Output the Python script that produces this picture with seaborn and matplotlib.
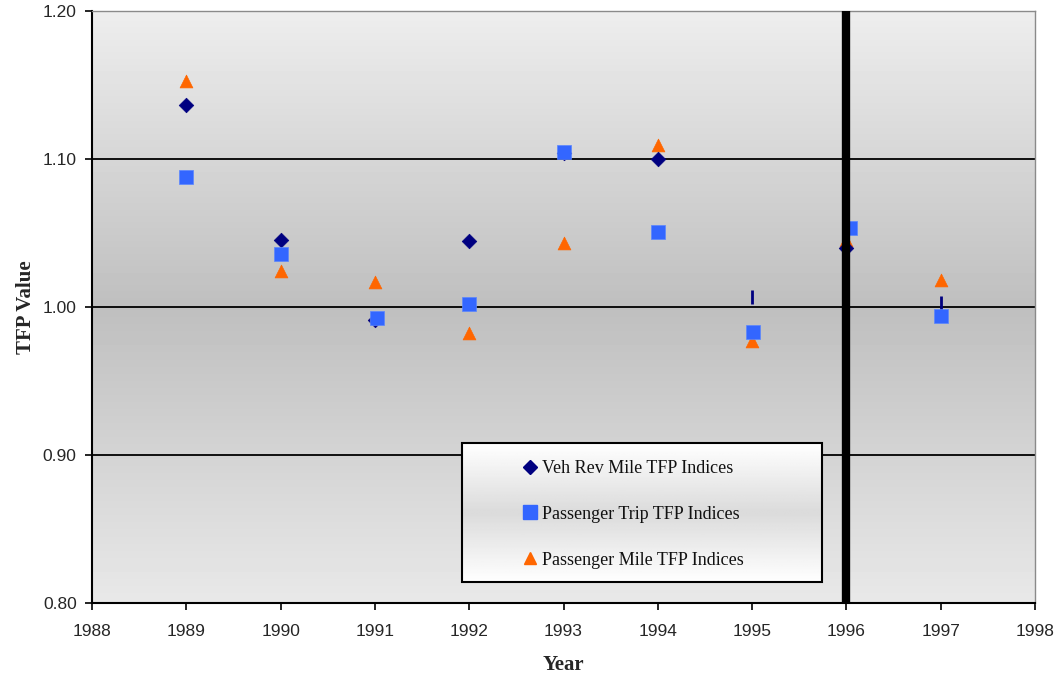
import numpy as np
import pandas as pd
import matplotlib
matplotlib.use("Agg")
import matplotlib.pyplot as plt
import seaborn as sns
from matplotlib.patches import Rectangle
from matplotlib.lines import Line2D

years = [1989, 1990, 1991, 1992, 1993, 1994, 1995, 1996, 1997]
veh_rev_mile = [1.1365, 1.045, 0.991, 1.0446, 1.104, 1.100, 1.007, 1.040, 1.003]
veh_marker = ["D", "D", "D", "D", "D", "D", "|", "D", "|"]
passenger_trip = [1.0878, 1.0358, 0.9926, 1.002, 1.1047, 1.0507, 0.983, 1.0534, 0.994]
trip_year_pos = [1989, 1990, 1991.02, 1992, 1993, 1994, 1995.01, 1996.04, 1997]
passenger_mile = [1.1527, 1.0243, 1.0169, 0.9824, 1.0432, 1.1095, 0.977, 1.045, 1.018]
series_names = ["Veh Rev Mile TFP Indices", "Passenger Trip TFP Indices", "Passenger Mile TFP Indices"]
xticks = [1988, 1989, 1990, 1991, 1992, 1993, 1994, 1995, 1996, 1997, 1998]
yticks = [0.80, 0.90, 1.00, 1.10, 1.20]
vline_year = 1996

c_veh = "#000080"
c_trip = "#3366ff"
c_mile = "#ff6600"

sns.set_style("white")
plt.rcParams["font.family"] = ["Liberation Sans", "DejaVu Sans"]

fig = plt.figure(figsize=(10.62, 6.78), dpi=100)
ax = fig.add_axes([92/1062, 1 - 603/678, 943/1062, 592/678])

# gradient background
grad = np.concatenate([np.linspace(0.93, 0.75, 50), np.linspace(0.75, 0.91, 50)])
img = np.repeat(grad[:, None], 2, axis=1)
ax.imshow(img, cmap="gray", vmin=0, vmax=1, extent=[0, 1, 0, 1], transform=ax.transAxes,
          aspect="auto", zorder=0, interpolation="bilinear")

for y in [0.90, 1.00, 1.10]:
    ax.axhline(y, color="black", lw=1.3, zorder=1)

df = pd.DataFrame({"year": years, "veh": veh_rev_mile, "vm": veh_marker,
                   "trip": passenger_trip, "tx": trip_year_pos, "mile": passenger_mile})

dmask = df["vm"] == "D"
sns.scatterplot(data=df[dmask], x="year", y="veh", marker="D", s=55, color=c_veh,
                edgecolor=c_veh, linewidth=0.5, ax=ax, zorder=3)
ax.scatter(df.loc[~dmask, "year"], df.loc[~dmask, "veh"], marker="|", s=110, color=c_veh,
           linewidths=2, zorder=3)
sns.scatterplot(data=df, x="year", y="mile", marker="^", s=85, color=c_mile,
                edgecolor=c_mile, linewidth=0.5, ax=ax, zorder=2)
sns.scatterplot(data=df, x="tx", y="trip", marker="s", s=100, color=c_trip,
                edgecolor="#5a86ff", linewidth=0.5, ax=ax, zorder=4)

ax.axvline(vline_year, color="black", lw=6, zorder=5)

ax.set_xlim(1988, 1998)
ax.set_ylim(0.80, 1.20)
ax.set_xticks(xticks)
ax.set_xticklabels([str(t) for t in xticks], fontsize=12.5)
ax.set_yticks(yticks)
ax.set_yticklabels([f"{t:.2f}" for t in yticks], fontsize=12.5)
ax.tick_params(axis="both", direction="out", length=5, width=1.2, color="black",
               bottom=True, left=True)
ax.tick_params(axis="x", pad=10)
ax.tick_params(axis="y", pad=6)
for side in ["top", "right"]:
    ax.spines[side].set_color("#8a8a8a")
    ax.spines[side].set_linewidth(1.0)
for side in ["left", "bottom"]:
    ax.spines[side].set_color("black")
    ax.spines[side].set_linewidth(1.5)

ax.set_xlabel("Year", fontsize=15, fontweight="bold", family="Liberation Serif", labelpad=12)
ax.set_ylabel("TFP Value", fontsize=15, fontweight="bold", family="Liberation Serif", labelpad=5)

# legend box with gradient
lx0, lx1 = (462 - 92) / 943, (822 - 92) / 943
ly0, ly1 = (603 - 582) / 592, (603 - 443) / 592
lgrad = np.concatenate([np.linspace(1.0, 0.86, 50), np.linspace(0.86, 1.0, 50)])
limg = np.repeat(lgrad[:, None], 2, axis=1)
ax.imshow(limg, cmap="gray", vmin=0, vmax=1, extent=[lx0, lx1, ly0, ly1], transform=ax.transAxes,
          aspect="auto", zorder=6, interpolation="bilinear")
ax.add_patch(Rectangle((lx0, ly0), lx1 - lx0, ly1 - ly0, transform=ax.transAxes,
                       fill=False, edgecolor="black", lw=1.5, zorder=7))
ax.set_xlim(1988, 1998)
ax.set_ylim(0.80, 1.20)

handles = [
    Line2D([], [], ls="none", marker="D", ms=7, color=c_veh),
    Line2D([], [], ls="none", marker="s", ms=10, color=c_trip),
    Line2D([], [], ls="none", marker="^", ms=9, color=c_mile),
]
leg = ax.legend(handles, series_names, loc="center left",
                bbox_to_anchor=((519 - 92) / 943, (ly0 + ly1) / 2 - 0.003),
                bbox_transform=ax.transAxes, frameon=False, labelspacing=1.6, handletextpad=0.05,
                handlelength=1.2, borderpad=0, borderaxespad=0,
                prop={"family": "Liberation Serif", "size": 13})
leg.set_zorder(8)
for t in leg.get_texts():
    t.set_color("#111111")

fig.savefig("out.png", dpi=100)
